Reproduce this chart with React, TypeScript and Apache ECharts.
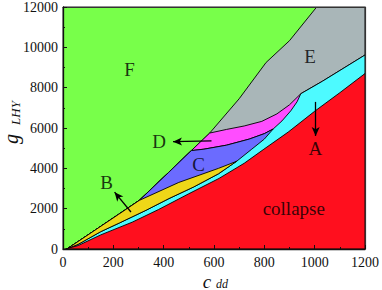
import React, { useEffect, useRef } from "react";
import * as echarts from "echarts";

// ---- data ----
const xRange = [0, 1200];
const yRange = [0, 12000];

// boundary between F (green) and the coloured regions
const fBoundary = [[15, 0], [60, 370], [140, 1040], [220, 1710], [303, 2410], [420, 3800], [510, 4880], [583, 5750], [700, 7450], [807, 9250], [900, 10330], [1008, 12000]];
// lower edge of E (gray) against D (pink)
const grayLower = [[583, 5750], [650, 5930], [720, 6100], [790, 6330], [850, 6700], [900, 7150], [945, 7700]];
// E / A boundary
const eCyanBoundary = [[945, 7700], [1031, 8320], [1200, 9620]];
// D / C boundary
const pinkLower = [[510, 4880], [560, 4950], [650, 5150], [740, 5450], [800, 5720], [835, 5950]];
// D / A boundary
const pinkCyanBoundary = [[835, 5950], [870, 6350], [905, 6850], [930, 7300], [945, 7700]];
// upper edge of A (cyan) under B and C
const cyanTop = [[15, 0], [60, 230], [150, 860], [224, 1290], [330, 1920], [421, 2500], [520, 3080], [618, 3730], [690, 4350], [750, 4950], [800, 5450], [835, 5950]];
// B / C boundary
const yellowTop = [[303, 2410], [460, 3300], [618, 4000], [690, 4350]];
// collapse boundary
const redTop = [[10, 0], [60, 170], [150, 700], [275, 1330], [380, 1960], [500, 2740], [620, 3500], [720, 4250], [795, 4920], [895, 5800], [1000, 6830], [1100, 7750], [1200, 8700]];

const regionLabels = [
  { name: "F", value: [264, 8903] },
  { name: "E", value: [982, 9543] },
  { name: "D", value: [382, 5312] },
  { name: "C", value: [539, 4205] },
  { name: "B", value: [173, 3296] },
  { name: "A", value: [1003, 4968] },
  { name: "collapse", value: [917, 2017] },
];

const arrows = [
  [[590, 5361], [437, 5320]],
  [[270, 1835], [205, 2818]],
  [[1004, 7294], [1004, 5607]],
];

const xTickStep = 200;
const yTickStep = 2000;

const COLORS = {
  F: "#78FF4A",
  E: "#A9B6B8",
  D: "#FF4DFF",
  C: "#6B6BFF",
  B: "#EED718",
  A: "#4DFAFF",
  collapse: "#FF0F1E",
};

const upTo = (arr: number[][], x: number) => arr.filter((p) => p[0] <= x);
const rev = (arr: number[][]) => arr.slice().reverse();

const polyGray = [...fBoundary, [1200, 12000], [1200, 0]];
const polyPink = [...upTo(fBoundary, 583), ...grayLower.slice(1), ...eCyanBoundary.slice(1), [1200, 0]];
const polyCyan = [...upTo(fBoundary, 510), ...pinkLower.slice(1), ...pinkCyanBoundary.slice(1), ...eCyanBoundary.slice(1), [1200, 0]];
const polyBlue = [...upTo(fBoundary, 510), ...pinkLower.slice(1), ...rev(cyanTop).slice(1)];
const polyYellow = [...upTo(fBoundary, 303), ...yellowTop.slice(1), ...rev(upTo(cyanTop, 690)).slice(1)];
const polyRed = [...redTop, [1200, 0]];

const FONT = "Liberation Serif, DejaVu Serif, serif";

function region(name: string, pts: number[][], color: string) {
  return {
    type: "custom",
    name,
    coordinateSystem: "cartesian2d",
    data: pts,
    clip: true,
    silent: true,
    renderItem: (params: any, api: any) => {
      if (params.dataIndex !== 0) return null;
      return {
        type: "polygon",
        shape: { points: pts.map((p) => api.coord(p)) },
        style: { fill: color, stroke: "#000", lineWidth: 0.9 },
      };
    },
  };
}

export default function App() {
  const ref = useRef<HTMLDivElement>(null);
  useEffect(() => {
    if (!ref.current) return;
    const chart = echarts.init(ref.current, undefined, { renderer: "svg" });
    const axisCommon = {
      type: "value",
      z: 10,
      splitLine: { show: false },
    };
    const textStyle = (size: number) => ({
      fontFamily: FONT,
      fontStyle: "italic",
      fontSize: size,
      fill: "#111",
      align: "center",
      verticalAlign: "middle",
    });
    chart.setOption({
      animation: false,
      grid: { left: 63, right: 14, top: 5, bottom: 41, show: true, backgroundColor: COLORS.F, borderColor: "#222", borderWidth: 1 },
      xAxis: [
        {
          ...axisCommon,
          min: xRange[0],
          max: xRange[1],
          interval: xTickStep,
          axisLine: { show: true, onZero: false, lineStyle: { color: "#111", width: 1.3 } },
          axisTick: { show: true, inside: true, length: 4, lineStyle: { color: "#111" } },
          minorTick: { show: true, splitNumber: 2, length: 2, lineStyle: { color: "#111" } },
          axisLabel: { color: "#111", fontFamily: FONT, fontSize: 14, margin: 6, formatter: (v: number) => String(v) },
        },
        {
          ...axisCommon,
          position: "top",
          min: xRange[0],
          max: xRange[1],
          axisLine: { show: true, onZero: false, lineStyle: { color: "#333", width: 1.2 } },
          axisTick: { show: false },
          axisLabel: { show: false },
        },
      ],
      yAxis: [
        {
          ...axisCommon,
          min: yRange[0],
          max: yRange[1],
          interval: yTickStep,
          axisLine: { show: true, onZero: false, lineStyle: { color: "#111", width: 1.3 } },
          axisTick: { show: true, inside: true, length: 4, lineStyle: { color: "#111" } },
          minorTick: { show: true, splitNumber: 2, length: 2, lineStyle: { color: "#111" } },
          axisLabel: { color: "#111", fontFamily: FONT, fontSize: 14, margin: 5, formatter: (v: number) => String(v) },
        },
        {
          ...axisCommon,
          position: "right",
          min: yRange[0],
          max: yRange[1],
          axisLine: { show: true, onZero: false, lineStyle: { color: "#333", width: 1.2 } },
          axisTick: { show: false },
          axisLabel: { show: false },
        },
      ],
      series: [
        region("E", polyGray, COLORS.E),
        region("D", polyPink, COLORS.D),
        region("A", polyCyan, COLORS.A),
        region("C", polyBlue, COLORS.C),
        region("B", polyYellow, COLORS.B),
        region("collapse", polyRed, COLORS.collapse),
        {
          type: "scatter",
          z: 5,
          symbolSize: 0,
          silent: true,
          data: regionLabels,
          label: {
            show: true,
            position: "inside",
            formatter: (p: any) => p.name,
            color: "#000",
            fontFamily: FONT,
            fontSize: 19,
          },
          markLine: {
            silent: true,
            symbol: ["none", "arrow"],
            symbolSize: [6, 9],
            lineStyle: { color: "#000", width: 1.3, type: "solid" },
            label: { show: false },
            data: arrows.map((a) => [{ coord: a[0] }, { coord: a[1] }]),
          },
        },
      ],
      graphic: [
        { type: "text", x: 11, y: 139, rotation: Math.PI / 2, style: { text: "g", ...textStyle(20) } },
        { type: "text", x: 15, y: 113, rotation: Math.PI / 2, style: { text: "LHY", ...textStyle(13) } },
        { type: "text", x: 207, y: 281, style: { text: "c", ...textStyle(19) } },
        { type: "text", x: 222, y: 284, style: { text: "dd", ...textStyle(12) } },
      ],
    });
    return () => chart.dispose();
  }, []);
  return <div ref={ref} style={{ position: "absolute", left: 0, top: 0, width: 382, height: 290 }} />;
}
